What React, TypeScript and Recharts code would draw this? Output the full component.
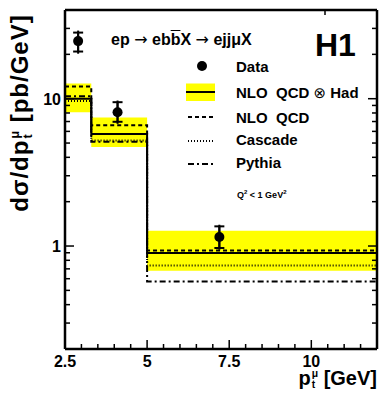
import { ComposedChart, Area, Line, Scatter, ErrorBar, XAxis, YAxis } from 'recharts';

// bins in p_t^mu [GeV]
const BIN_LO = [2.5, 3.3, 5];
const BIN_HI = [3.3, 5, 12];

// theory predictions per bin [pb/GeV]
const NLO_HAD = [10.0, 5.76, 0.896];
const NLO_HAD_LO = [8.1, 4.7, 0.68];
const NLO_HAD_HI = [12.7, 7.46, 1.27];
const NLO = [12.1, 6.6, 0.933];
const CASCADE = [9.63, 5.2, 0.738];
const PYTHIA = [10.4, 5.1, 0.574];

// measured points
const DATA_PT = [2.9, 4.1, 7.2];
const DATA_XS = [24.6, 8.1, 1.15];
const STAT_DN = [3.7, 1.13, 0.18];
const STAT_UP = [3.5, 1.37, 0.21];
const TOT_DN = [4.4, 1.35, 0.207];
const TOT_UP = [4.4, 1.62, 0.245];

const X_TICKS = [2.5, 3, 3.5, 4, 4.5, 5, 5.5, 6, 6.5, 7, 7.5, 8, 8.5, 9, 9.5, 10, 10.5, 11, 11.5, 12];
const X_LABELS = [2.5, 5, 7.5, 10];
const X_MAJOR = [5, 7.5, 10];
const Y_TICKS = [0.3, 0.4, 0.5, 0.6, 0.7, 0.8, 0.9, 1, 2, 3, 4, 5, 6, 7, 8, 9, 10, 20, 30];
const Y_LABELS = [1, 10];

const FONT = '"Liberation Sans", Arial, Helvetica, sans-serif';
const SYM_FONT = '"DejaVu Sans", sans-serif';
const YELLOW = '#ffff00';
const BLACK = '#000';

const W = 388;
const H = 406;

const steps = BIN_LO.map((x, i) => ({
  x,
  had: NLO_HAD[i],
  band: [NLO_HAD_LO[i], NLO_HAD_HI[i]],
  nlo: NLO[i],
  cascade: CASCADE[i],
  pythia: PYTHIA[i],
}));
steps.push({ ...steps[steps.length - 1], x: BIN_HI[BIN_HI.length - 1] });

const points = DATA_PT.map((x, i) => ({
  x,
  y: DATA_XS[i],
  stat: [STAT_DN[i], STAT_UP[i]],
  tot: [TOT_DN[i], TOT_UP[i]],
}));

function XTick(props: any) {
  const { x, y, payload, side } = props;
  const v = payload.value;
  const len = X_MAJOR.includes(v) ? 9 : 5;
  const dir = side === 'bottom' ? -1 : 1;
  return (
    <g>
      <line x1={x} x2={x} y1={y} y2={y + dir * len} stroke={BLACK} strokeWidth={1.5} />
      {side === 'bottom' && X_LABELS.includes(v) && (
        <text x={x} y={y + 18} textAnchor="middle" fontFamily={FONT} fontWeight="bold" fontSize={16} fill={BLACK}>
          {v}
        </text>
      )}
    </g>
  );
}

function YTick(props: any) {
  const { x, y, payload, side } = props;
  const v = payload.value;
  const len = Y_LABELS.includes(v) ? 9 : 5;
  const dir = side === 'left' ? 1 : -1;
  return (
    <g>
      <line x1={x} x2={x + dir * len} y1={y} y2={y} stroke={BLACK} strokeWidth={1.5} />
      {side === 'left' && Y_LABELS.includes(v) && (
        <text x={x - 4} y={y + 6} textAnchor="end" fontFamily={FONT} fontWeight="bold" fontSize={16} fill={BLACK}>
          {v}
        </text>
      )}
    </g>
  );
}

const dataDot = (p: any) => <circle cx={p.cx} cy={p.cy} r={5} fill={BLACK} />;

const txt = (size: number): React.CSSProperties => ({
  position: 'absolute',
  fontFamily: FONT,
  fontWeight: 'bold',
  fontSize: size,
  lineHeight: `${size}px`,
  whiteSpace: 'pre',
  color: BLACK,
});

const sym: React.CSSProperties = { fontFamily: SYM_FONT, fontWeight: 'normal' };

function PtMu() {
  return (
    <>
      p
      <span style={{ display: 'inline-flex', flexDirection: 'column', fontSize: '0.52em', lineHeight: '1.05em', verticalAlign: 'middle', marginLeft: 1 }}>
        <span>μ</span>
        <span>t</span>
      </span>
    </>
  );
}

export default function App() {
  const axisLine = { stroke: BLACK, strokeWidth: 2.5 };
  return (
    <div style={{ position: 'absolute', left: 0, top: 0, width: W, height: H, background: '#fff' }}>
      <ComposedChart width={W} height={H} data={steps} margin={{ top: 0, right: 0, bottom: 0, left: 0 }}>
        <XAxis
          dataKey="x" type="number" domain={[2.5, 12]} allowDataOverflow ticks={X_TICKS} interval={0}
          orientation="bottom" height={57} tickSize={0} tickMargin={0} axisLine={axisLine}
          tick={(p: any) => <XTick {...p} side="bottom" />}
        />
        <XAxis
          xAxisId="top" type="number" domain={[2.5, 12]} allowDataOverflow ticks={X_TICKS} interval={0}
          orientation="top" height={10} tickSize={0} tickMargin={0} axisLine={axisLine}
          tick={(p: any) => <XTick {...p} side="top" />}
        />
        <YAxis
          type="number" scale="log" domain={[0.2, 40]} allowDataOverflow ticks={Y_TICKS} interval={0}
          orientation="left" width={65} tickSize={0} tickMargin={0} axisLine={axisLine}
          tick={(p: any) => <YTick {...p} side="left" />}
        />
        <YAxis
          yAxisId="right" type="number" scale="log" domain={[0.2, 40]} allowDataOverflow ticks={Y_TICKS} interval={0}
          orientation="right" width={11} tickSize={0} tickMargin={0} axisLine={axisLine}
          tick={(p: any) => <YTick {...p} side="right" />}
        />
        <Area dataKey="band" type="stepAfter" fill={YELLOW} fillOpacity={1} stroke="none" isAnimationActive={false} />
        <Line dataKey="pythia" type="stepAfter" stroke={BLACK} strokeWidth={2} strokeDasharray="6 3 2 3" dot={false} isAnimationActive={false} />
        <Line dataKey="cascade" type="stepAfter" stroke={BLACK} strokeWidth={2} strokeDasharray="1 2" dot={false} isAnimationActive={false} />
        <Line dataKey="nlo" type="stepAfter" stroke={BLACK} strokeWidth={2} strokeDasharray="4 3" dot={false} isAnimationActive={false} />
        <Line dataKey="had" type="stepAfter" stroke={BLACK} strokeWidth={2} dot={false} isAnimationActive={false} />
        <Scatter data={points} dataKey="y" fill={BLACK} shape={dataDot} isAnimationActive={false}>
          <ErrorBar dataKey="tot" direction="y" width={0} stroke={BLACK} strokeWidth={2} isAnimationActive={false} />
          <ErrorBar dataKey="stat" direction="y" width={5} stroke={BLACK} strokeWidth={2} isAnimationActive={false} />
        </Scatter>
      </ComposedChart>

      {/* legend symbols */}
      <svg width={W} height={H} style={{ position: 'absolute', left: 0, top: 0, pointerEvents: 'none' }}>
        <circle cx={202} cy={66} r={5} fill={BLACK} />
        <rect x={186} y={83.5} width={29} height={17.5} fill={YELLOW} />
        <line x1={186} x2={215} y1={92} y2={92} stroke={BLACK} strokeWidth={2} />
        <line x1={188} x2={215} y1={117} y2={117} stroke={BLACK} strokeWidth={2} strokeDasharray="4 3" />
        <line x1={188} x2={215} y1={141} y2={141} stroke={BLACK} strokeWidth={2} strokeDasharray="1 2" />
        <line x1={188} x2={215} y1={164} y2={164} stroke={BLACK} strokeWidth={2} strokeDasharray="6 3 2 3" />
      </svg>

      <div style={{ ...txt(16), left: 111, top: 32 }}>
        ep <span style={sym}>→</span> eb<span style={{ textDecoration: 'overline' }}>b</span>X <span style={sym}>→</span> ejjμX
      </div>
      <div style={{ ...txt(32), left: 315, top: 29 }}>H1</div>
      <div style={{ ...txt(15), left: 236, top: 58.5 }}>Data</div>
      <div style={{ ...txt(15), left: 236, top: 84.5 }}>
        NLO  QCD <span style={sym}>⊗</span> Had
      </div>
      <div style={{ ...txt(15), left: 236, top: 109.5 }}>NLO  QCD</div>
      <div style={{ ...txt(15), left: 236, top: 132 }}>Cascade</div>
      <div style={{ ...txt(15), left: 236, top: 155 }}>Pythia</div>
      <div style={{ ...txt(9), left: 237, top: 188 }}>
        Q<sup style={{ fontSize: 6 }}>2</sup> &lt; 1 GeV<sup style={{ fontSize: 6 }}>2</sup>
      </div>

      <div style={{ ...txt(20), right: 11, top: 368 }}>
        <PtMu /> [GeV]
      </div>
      <div
        style={{
          ...txt(24),
          letterSpacing: 1,
          left: 21,
          top: 113,
          transform: 'translate(-50%, -50%) rotate(-90deg)',
        }}
      >
        dσ/d<PtMu /> [pb/GeV]
      </div>
    </div>
  );
}
